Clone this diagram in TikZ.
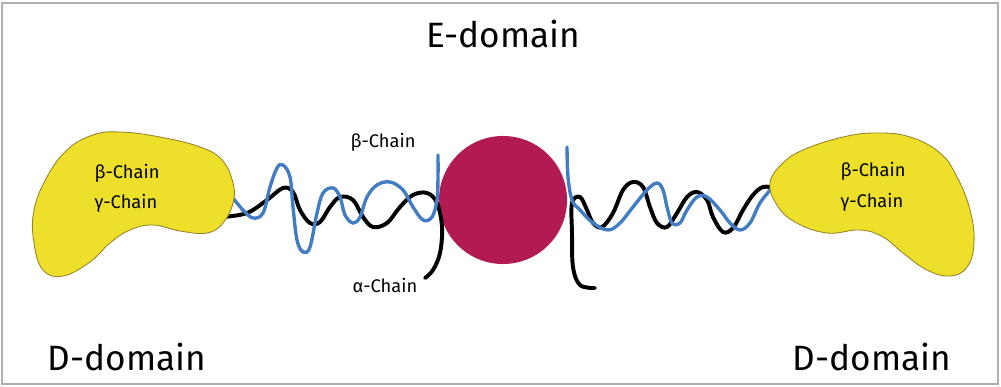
\documentclass[tikz,border=0pt]{standalone}
\usepackage{fontspec}
\setmainfont{Fira Sans}
\definecolor{blobyellow}{RGB}{238,224,42}
\definecolor{blobedge}{RGB}{150,128,40}
\definecolor{ecore}{RGB}{178,26,84}
\definecolor{chainblue}{RGB}{66,125,195}
\definecolor{framegray}{RGB}{175,175,175}

\begin{document}
\begin{tikzpicture}[x=0.025cm,y=-0.025cm,
  blob/.style={fill=blobyellow,draw=blobedge,line width=0.6pt},
  achain/.style={black,line width=2.8pt,line cap=round},
  bchain/.style={chainblue,line width=2.4pt,line cap=round},
  small/.style={font=\fontsize{13}{15}\selectfont,inner sep=0pt,anchor=base},
  big/.style={font=\fontsize{25}{30}\selectfont,inner sep=0pt,anchor=base}]
\useasboundingbox (0,0) rectangle (1001,387);
\draw[framegray,line width=1.1pt] (2,3) rectangle (998,384);

% E-domain core
\node[circle,fill=ecore,minimum size=3.2cm,inner sep=0pt] (core) at (503,200) {};

% chains, left half
\draw[achain] plot[smooth,tension=0.6] coordinates {(223,217) (247,213) (267,200)
  (283,188) (293,192) (300,210) (310,223) (320,222) (330,207) (340,197) (353,200)
  (363,217) (373,227) (387,223) (400,207) (413,195) (427,193) (437,203) (442,227)
  (440,253) (433,270) (425,278)};
\draw[bchain] plot[smooth,tension=0.6] coordinates {(233,198) (243,210) (253,218)
  (263,213) (270,187) (277,168) (283,165) (290,177) (293,207) (297,240) (303,252)
  (310,247) (317,213) (323,193) (333,188) (340,197) (345,215) (353,223) (360,217)
  (367,197) (377,185) (390,182) (403,190) (413,207) (423,220) (432,217) (437,200)
  (438,177) (438,155)};

% chains, right half
\draw[achain] plot[smooth,tension=0.6] coordinates {(595,288) (580,285) (573,267)
  (572,233) (572,203) (580,197) (587,210) (593,223) (602,227) (613,213) (623,190)
  (633,182) (643,187) (650,207) (657,223) (667,227) (677,213) (687,197) (697,192)
  (707,200) (713,217) (723,232) (733,228) (743,210) (753,195) (763,187) (775,188)};
\draw[bchain] plot[smooth,tension=0.6] coordinates {(567,147) (568,177) (572,200)
  (580,210) (593,223) (608,230) (620,223) (633,207) (647,190) (657,183) (663,190)
  (667,207) (672,223) (680,223) (687,210) (697,197) (707,197) (720,210) (730,223)
  (740,230) (750,223) (760,203) (772,188)};

% D-domains
\draw[blob] plot[smooth cycle,tension=0.7] coordinates {(93,135) (120,132) (160,137)
  (200,147) (222,160) (233,183) (233,203) (223,223) (207,233) (180,231) (153,225)
  (130,230) (110,243) (90,262) (63,276) (43,270) (34,243) (34,210) (47,177) (67,150)};
\draw[blob] plot[smooth cycle,tension=0.7] coordinates {(770,183) (782,164) (803,150)
  (843,137) (877,133) (910,137) (940,153) (957,177) (970,210) (974,243) (967,267)
  (950,276) (927,270) (903,253) (883,237) (860,230) (827,233) (795,222) (777,205)};

\node[small] (lb) at (127,179) {β-Chain};
\node[small] (lg) at (126,208) {γ-Chain};
\node[small] (rb) at (873,177) {β-Chain};
\node[small] (rg) at (872,207) {γ-Chain};
\node[small] (mb) at (383,148) {β-Chain};
\node[small] (ma) at (385,292) {α-Chain};

\node[big] (etitle) at (503,48) {E-domain};
\node[big] (dleft) at (127,370) {D-domain};
\node[big] (dright) at (872,370) {D-domain};
\end{tikzpicture}
\end{document}
